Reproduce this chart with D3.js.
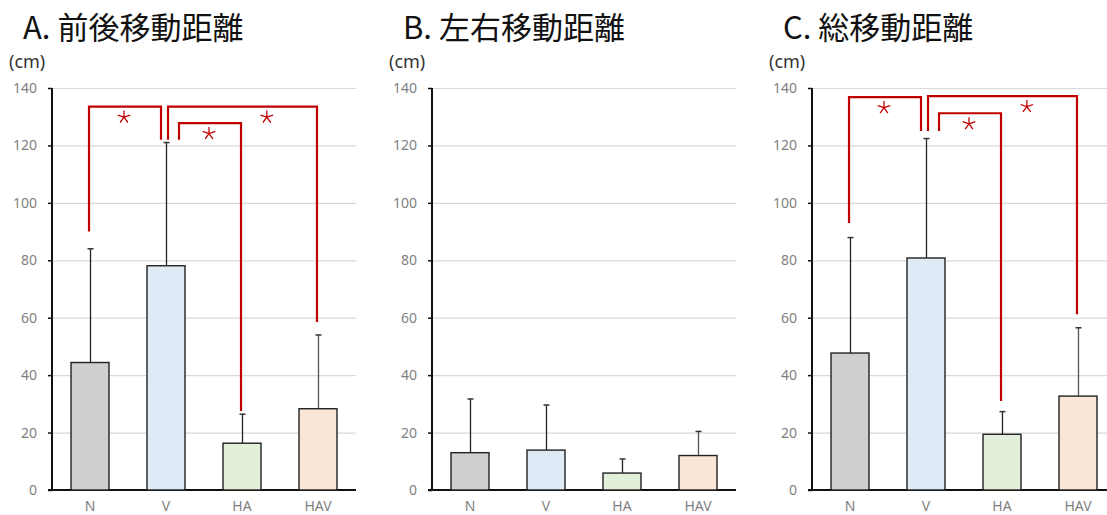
<!DOCTYPE html>
<html>
<head>
<meta charset="utf-8">
<script src="https://cdn.jsdelivr.net/npm/d3@7"></script>
<style>
  html, body { margin: 0; padding: 0; background: #fff; }
  svg { display: block; }
</style>
</head>
<body>
<svg id="chart" width="1107" height="515"></svg>
<script>
// Conditions and per-panel values (cm)
const categories = ["N", "V", "HA", "HAV"];
const panelTitles = ["A. 前後移動距離", "B. 左右移動距離", "C. 総移動距離"];
const unitLabel = "(cm)";
const yTicks = [0, 20, 40, 60, 80, 100, 120, 140];

const meanAP = [44.4, 78.1, 16.3, 28.3];
const sdTopAP = [84.0, 121.0, 26.4, 54.0];
const meanML = [13.0, 13.9, 5.9, 12.0];
const sdTopML = [31.7, 29.6, 10.8, 20.4];
const meanTotal = [47.7, 80.8, 19.4, 32.7];
const sdTopTotal = [87.9, 122.4, 27.3, 56.5];

// Significance brackets: pair, bracket top, and where each leg ends (data units)
const sigAP = [
  { from: "N", to: "V",   top: 133.5, leftEnd: 90,  rightEnd: 122 },
  { from: "V", to: "HAV", top: 133.5, leftEnd: 122, rightEnd: 58.5 },
  { from: "V", to: "HA",  top: 127.8, leftEnd: 122, rightEnd: 27.5 }
];
const sigML = [];
const sigTotal = [
  { from: "N", to: "V",   top: 136.8, leftEnd: 93,  rightEnd: 125 },
  { from: "V", to: "HAV", top: 137.2, leftEnd: 125, rightEnd: 61.2 },
  { from: "V", to: "HA",  top: 131.2, leftEnd: 125, rightEnd: 31 }
];

const barColors = ["#d0cece", "#deebf7", "#e2efda", "#fbe5d6"];

const panels = [
  { title: panelTitles[0], mean: meanAP, top: sdTopAP, sig: sigAP },
  { title: panelTitles[1], mean: meanML, top: sdTopML, sig: sigML },
  { title: panelTitles[2], mean: meanTotal, top: sdTopTotal, sig: sigTotal }
];

const svg = d3.select("#chart");
const panelStep = 380, plotLeft = 52, plotW = 304;
const y = d3.scaleLinear().domain([0, 140]).range([490, 88]);
const red = "#c00000";

// leg offsets (px) so brackets sit beside the bars' centre lines
const legShift = { left: { N: -1, V: 2 }, right: { V: -5, HA: -1, HAV: -1 } };
const innerShift = 13;

function star(g, cx, cy) {
  const r = 6.6;
  const path = d3.path();
  for (let k = 0; k < 5; k++) {
    const a = (-90 + k * 72) * Math.PI / 180;
    path.moveTo(cx, cy);
    path.lineTo(cx + r * Math.cos(a), cy + r * Math.sin(a));
  }
  g.append("path").attr("d", path.toString())
    .attr("stroke", red).attr("stroke-width", 1.3).attr("fill", "none")
    .attr("stroke-linecap", "butt");
}

panels.forEach((p, i) => {
  const x0 = plotLeft + i * panelStep;
  const g = svg.append("g").attr("transform", `translate(${x0},0)`);
  const x = d3.scaleBand().domain(categories).range([0, plotW]).paddingInner(0.5).paddingOuter(0.25);
  const cx = c => x(c) + x.bandwidth() / 2;

  // title and unit
  g.append("text").attr("x", -29).attr("y", 38.5)
    .attr("font-family", "'Noto Sans CJK JP', 'Noto Sans', sans-serif")
    .attr("font-size", 31).attr("fill", "#111").text(p.title);
  g.append("text").attr("x", -43).attr("y", 68)
    .attr("font-family", "'Noto Sans', sans-serif")
    .attr("font-size", 18).attr("fill", "#333").text(unitLabel);

  // gridlines
  g.append("g").selectAll("line").data(yTicks.filter(t => t > 0)).join("line")
    .attr("x1", 0).attr("x2", plotW)
    .attr("y1", d => y(d) + 0.5).attr("y2", d => y(d) + 0.5)
    .attr("stroke", "#d9d9d9").attr("stroke-width", 1.2);

  // y axis
  const yAxis = g.append("g").call(d3.axisLeft(y).tickValues(yTicks).tickSize(4).tickPadding(11));
  yAxis.select(".domain").attr("stroke", "#111").attr("stroke-width", 2).attr("d", `M0,${y(140)}V${y(0)}`);
  yAxis.selectAll(".tick line").attr("stroke", "#111").attr("stroke-width", 1.5);
  yAxis.selectAll(".tick text").attr("fill", "#7f7f7f").attr("font-size", 14)
    .attr("font-family", "'Noto Sans', sans-serif");

  // x axis
  const xAxis = g.append("g").attr("transform", `translate(0,${y(0)})`)
    .call(d3.axisBottom(x).tickSize(0).tickPadding(11));
  xAxis.select(".domain").attr("stroke", "#111").attr("stroke-width", 2).attr("d", `M-4,0H${plotW}`);
  xAxis.selectAll(".tick text").attr("fill", "#7f7f7f").attr("font-size", 14)
    .attr("font-family", "'Noto Sans', sans-serif");

  // error bars (upper SD only)
  const eb = g.append("g");
  categories.forEach((c, k) => {
    const ex = Math.round(cx(c)) + 0.5;
    eb.append("line").attr("x1", ex).attr("x2", ex)
      .attr("y1", y(p.mean[k])).attr("y2", y(p.top[k]))
      .attr("stroke", k === 3 ? "#555" : "#222").attr("stroke-width", 1.3);
    eb.append("line").attr("x1", ex - 3).attr("x2", ex + 3)
      .attr("y1", y(p.top[k])).attr("y2", y(p.top[k]))
      .attr("stroke", "#333").attr("stroke-width", 1.5);
  });

  // bars
  g.append("g").selectAll("rect").data(categories).join("rect")
    .attr("x", c => x(c)).attr("width", x.bandwidth())
    .attr("y", (c, k) => y(p.mean[k]))
    .attr("height", (c, k) => y(0) - y(p.mean[k]))
    .attr("fill", (c, k) => barColors[k])
    .attr("stroke", "#222").attr("stroke-width", 1.4);

  // significance brackets
  const sg = g.append("g");
  p.sig.forEach((s, j) => {
    const inner = s.to === "HA" && s.from === "V";
    const lx = cx(s.from) + (inner ? innerShift : legShift.left[s.from]);
    const rx = cx(s.to) + legShift.right[s.to];
    sg.append("path")
      .attr("d", `M${lx},${y(s.leftEnd)}V${y(s.top)}H${rx}V${y(s.rightEnd)}`)
      .attr("fill", "none").attr("stroke", red).attr("stroke-width", 2.2);
    const frac = s.to === "HAV" && s.from === "V" ? 0.67 : 0.5;
    star(sg, lx + (rx - lx) * frac - 1, y(s.top) + 10.5);
  });
});
</script>
</body>
</html>
